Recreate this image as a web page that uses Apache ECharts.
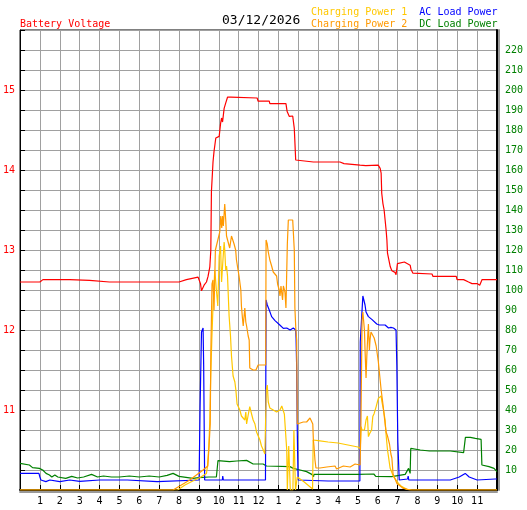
<!DOCTYPE html>
<html><head><meta charset="utf-8">
<script src="https://cdn.jsdelivr.net/npm/echarts@6/dist/echarts.min.js"></script>
<style>html,body{margin:0;padding:0;background:#fff}#c{width:527px;height:510px}</style>
</head><body><div id="c"></div>
<script>
const FONT = 'DejaVu Sans Mono';
const dateText = '03/12/2026';
const hourLabels = ['', '1','2','3','4','5','6','7','8','9','10','11','12','1','2','3','4','5','6','7','8','9','10','11',''];

// Battery Voltage (V, left axis)
const voltT = [0,1.0,1.15,2.5,3.5,4.5,8.0,8.37,8.96,9.08,9.13,9.21,9.26,9.38,9.46,9.55,9.60,9.63,9.68,9.71,9.76,9.85,9.91,10.02,10.09,10.14,10.19,10.27,10.34,10.39,10.44,10.52,10.60,11.93,11.98,12.54,12.57,13.38,13.44,13.55,13.72,13.80,13.87,13.95,14.76,14.80,14.85,16.10,16.3,17.11,17.4,17.5,18.03,18.12,18.17,18.20,18.26,18.32,18.37,18.42,18.46,18.49,18.63,18.71,18.87,18.92,18.99,19.09,19.34,19.39,19.63,19.67,19.77,20.73,20.78,21.95,21.99,22.32,22.40,22.57,22.74,23.00,23.13,23.20,23.25,24.0];
const voltV = [12.60,12.60,12.63,12.63,12.62,12.60,12.60,12.63,12.66,12.58,12.49,12.49,12.56,12.60,12.67,12.79,13.0,13.73,13.96,14.10,14.23,14.40,14.375,14.42,14.58,14.65,14.60,14.77,14.83,14.81,14.91,14.93,14.91,14.90,14.86,14.86,14.83,14.83,14.73,14.67,14.675,14.52,14.125,14.10,14.10,14.11,14.10,14.10,14.08,14.06,14.055,14.06,14.06,14.02,13.96,13.71,13.58,13.50,13.375,13.25,13.125,12.96,12.79,12.74,12.72,12.69,12.83,12.85,12.85,12.83,12.81,12.76,12.71,12.70,12.67,12.67,12.63,12.63,12.62,12.60,12.58,12.58,12.56,12.56,12.63,12.63];

// Charging Power 1 (right axis)
const cp1T = [0,7.93,8.3,8.79,9.1,9.38,9.43,9.50,9.55,9.59,9.65,9.72,9.80,9.88,9.95,10.02,10.09,10.14,10.21,10.27,10.30,10.35,10.39,10.44,10.52,10.59,10.64,10.72,10.81,10.86,10.92,11.06,11.14,11.20,11.31,11.36,11.40,11.48,11.56,11.65,11.73,11.82,11.90,12.07,12.15,12.24,12.32,12.36,12.39,12.44,12.49,12.57,12.66,12.91,13.08,13.17,13.25,13.30,13.38,13.42,13.45,13.49,13.52,13.57,13.60,13.73,13.78,13.83,13.86,13.95,14.3,14.6,14.72,14.75,15.0,15.5,16.0,16.5,17.0,17.12,17.16,17.21,17.27,17.33,17.41,17.48,17.53,17.58,17.64,17.69,17.75,17.82,17.92,17.98,18.03,18.12,18.17,18.21,18.29,18.37,18.42,18.49,18.54,18.62,18.79,19.04,19.21,19.47,19.72,24];
const cp1V = [0,0,2.5,5,6.5,8.3,11.7,21.7,35,55,75,95,110,100,92,117,122,104,115,124,120,110,112,107,87,77,67,57,54,50,43,40,37,38,35,39,33,37.5,41.7,38,35,33,29,25,22,20,18,18,50,52.5,44,41,40,39,40,42,42,38,38,20,0,0,22,22,0,0,30,30,0,6.5,4,1.5,0.5,25,24.7,24,23.5,22.5,21.5,20.8,31.7,30,31,30,35,37,26.7,28,29,30,36.7,38.3,41.7,44,45.8,46.7,47,44,40,35,27.5,20,16.7,11,6.7,3.3,1.7,0.3,0,0];

// Charging Power 2 (right axis)
const cp2T = [0,7.70,8.54,9.21,9.45,9.51,9.57,9.60,9.66,9.71,9.76,9.83,9.87,10.05,10.10,10.15,10.19,10.23,10.30,10.35,10.39,10.55,10.64,10.72,10.77,10.85,10.89,10.97,11.02,11.11,11.14,11.20,11.23,11.31,11.36,11.40,11.48,11.53,11.56,11.73,11.87,11.98,12.36,12.38,12.44,12.49,12.57,12.66,12.74,12.83,12.91,12.96,13.04,13.08,13.13,13.21,13.25,13.33,13.38,13.42,13.45,13.50,13.72,13.76,13.80,13.83,13.88,13.92,13.95,14.05,14.25,14.42,14.51,14.59,14.68,14.73,14.76,14.79,14.84,14.89,15.09,15.43,15.85,15.93,16.27,16.61,16.86,17.11,17.15,17.21,17.25,17.28,17.33,17.36,17.41,17.45,17.50,17.53,17.58,17.61,17.66,17.75,17.82,17.92,18.03,18.12,18.17,18.26,18.37,18.42,18.49,18.59,18.66,18.71,18.77,18.96,19.13,19.29,19.63,24];
const cp2V = [0,0,5,10,12,22,33,68,103,105,90,120,121,129,137,131,137,132,143,135,127,121,127,127,123,120,115,110,107,100,92,85,82,91,84,82,77,75,61,60,60,62.5,62.5,125,123,119,115,112,109,109,107,103,100,97,102,95,102,99,91,90,123,135,135,136,120,91,80,75,33,33,34,34,35,36,35,33,25,22,15,11,11,11.5,12,10.5,12,11.5,13,12.5,30,85,89,88,80,70,56,67,78,83,70,75,79,78,76,72,64,55,50,43,33,29,27,23,18,16,8,3.3,2,0.8,0,0];

// AC Load Power (right axis)
const acT = [0,0.95,1.0,1.05,1.3,1.5,2.0,2.5,3.0,4.0,5.4,5.45,6.9,7.0,9.01,9.06,9.13,9.21,9.24,9.29,10.18,10.2,10.23,12.35,12.38,12.44,12.54,12.66,12.83,12.91,13.07,13.25,13.33,13.42,13.59,13.75,13.87,13.89,13.92,13.95,13.99,15.5,17.10,17.12,17.18,17.25,17.30,17.36,17.41,17.53,17.70,17.78,17.95,18.08,18.15,18.37,18.54,18.66,18.79,18.92,18.96,19.00,19.01,19.05,19.08,19.5,19.53,19.56,21.65,21.7,22.1,22.4,22.6,23.0,23.9,24];
const acV = [8.3,8.3,6.5,5,4.2,5,4.2,5,4.3,5,5,4.2,4.2,5,5,42,79,81,62,5,5,7,5,5,95,92.5,90,86.7,84.7,84,82.5,80.8,80,81,80,81,80,76,61,30,5,4.5,4.5,74,74,97,95,92.5,89,86.7,85.3,85,83,82.5,83.3,82.5,81,81.3,81,80,62,62,24,24,5,5.5,7,5,5,5.8,6.5,8.3,6.5,5,5.5,5.5];

// DC Load Power (right axis)
const dcT = [0,0.47,0.63,0.97,1.14,1.31,1.48,1.6,1.75,1.9,2.0,2.3,2.6,2.9,3.2,3.6,3.9,4.2,4.6,5.0,5.5,6.0,6.5,7.0,7.4,7.7,8.0,8.7,9.0,9.5,9.88,9.96,10.54,10.9,11.4,11.73,12.23,12.4,13.58,13.75,14.09,14.42,14.68,14.77,14.79,17.0,17.8,17.9,18.7,19.38,19.55,19.63,19.66,20.14,20.6,21.65,21.73,22.32,22.41,22.66,22.91,23.2,23.24,23.6,23.85,24.0];
const dcV = [13.3,12.5,11.2,10.8,10,8.3,7.5,6.5,7.5,6.5,7.2,5.8,6.8,6,6.5,7.8,6.5,7,6.5,6.5,7,6.5,7,6.5,7.3,8.3,6.8,5.8,6.2,6.5,6.5,14.7,14.2,14.5,14.8,13,13,12,11.7,10.8,10,9.2,7.8,6.7,7.8,7.8,8,6.8,6.7,7.8,10.8,8.3,20.8,20,19.5,19.5,18.7,18.7,26.3,26.3,25.8,25.3,12.5,11.7,10.8,9.2];

const pairs = (t, v) => t.map((x, i) => [x, v[i]]);

const C = {volt:'#FF0000', cp1:'#FFC800', cp2:'#FF9900', ac:'#0000FF', dc:'#008000'};
const GRID = '#A0A0A0';

const chart = echarts.init(document.getElementById('c'), null, {renderer:'canvas'});
const lineSeries = (name, data, color, yIndex) => ({
  name, type:'line', data, yAxisIndex:yIndex, showSymbol:false, symbol:'none',
  lineStyle:{color, width:1.2}, itemStyle:{color}, animation:false, clip:true
});

chart.setOption({
  animation:false,
  textStyle:{fontFamily:FONT},
  title:{text:dateText, left:222, top:14, padding:0,
    textStyle:{fontSize:13, fontWeight:'normal', color:'#000', fontFamily:FONT}},
  legend:[
    {left:15, top:19, padding:0, itemWidth:0, itemHeight:0, icon:'none', selectedMode:false,
     textStyle:{fontSize:10, fontFamily:FONT},
     data:[{name:'Battery Voltage', textStyle:{color:C.volt}}]},
    {left:306, top:7, padding:0, itemWidth:0, itemHeight:0, itemGap:7, icon:'none', selectedMode:false,
     textStyle:{fontSize:10, fontFamily:FONT},
     data:[{name:'Charging Power 1', textStyle:{color:C.cp1}},{name:'AC Load Power', textStyle:{color:C.ac}}]},
    {left:306, top:19, padding:0, itemWidth:0, itemHeight:0, itemGap:7, icon:'none', selectedMode:false,
     textStyle:{fontSize:10, fontFamily:FONT},
     data:[{name:'Charging Power 2', textStyle:{color:C.cp2}},{name:'DC Load Power', textStyle:{color:C.dc}}]}
  ],
  grid:{left:20, right:30, top:30, bottom:20, show:true, borderColor:'#000', borderWidth:1, backgroundColor:'#fff'},
  xAxis:{type:'value', min:0, max:24, interval:1,
    axisLine:{show:true, lineStyle:{color:'#000', width:2, shadowColor:'#999', shadowOffsetY:2}},
    axisTick:{show:true, inside:true, length:5, lineStyle:{color:'#000'}},
    axisLabel:{margin:6, fontSize:10, color:'#000', fontFamily:FONT,
      formatter:(v)=>hourLabels[Math.round(v)] || ''},
    splitLine:{show:true, lineStyle:{color:GRID, width:1}}},
  yAxis:[
    {type:'value', position:'left', min:10, max:15.75, interval:0.25,
     axisLine:{show:true, lineStyle:{color:'#000', width:1}},
     axisTick:{show:true, inside:true, length:5, lineStyle:{color:'#000'}},
     axisLabel:{margin:5, fontSize:10, color:C.volt, fontFamily:FONT,
       formatter:(v)=> (Math.abs(v-Math.round(v))<1e-9 && v>10.5) ? String(Math.round(v)) : ''},
     splitLine:{show:true, lineStyle:{color:GRID, width:1}}},
    {type:'value', position:'right', min:0, max:230, interval:10,
     axisLine:{show:true, lineStyle:{color:'#000', width:2, shadowColor:'#999', shadowOffsetX:2}},
     axisTick:{show:false},
     axisLabel:{margin:8, fontSize:10, color:C.dc, fontFamily:FONT,
       formatter:(v)=> (v>0 && v<230) ? String(v) : ''},
     splitLine:{show:false}}
  ],
  series:[
    lineSeries('DC Load Power', pairs(dcT, dcV), C.dc, 1),
    lineSeries('AC Load Power', pairs(acT, acV), C.ac, 1),
    lineSeries('Charging Power 1', pairs(cp1T, cp1V), C.cp1, 1),
    lineSeries('Charging Power 2', pairs(cp2T, cp2V), C.cp2, 1),
    lineSeries('Battery Voltage', pairs(voltT, voltV), C.volt, 0)
  ]
});
</script></body></html>
